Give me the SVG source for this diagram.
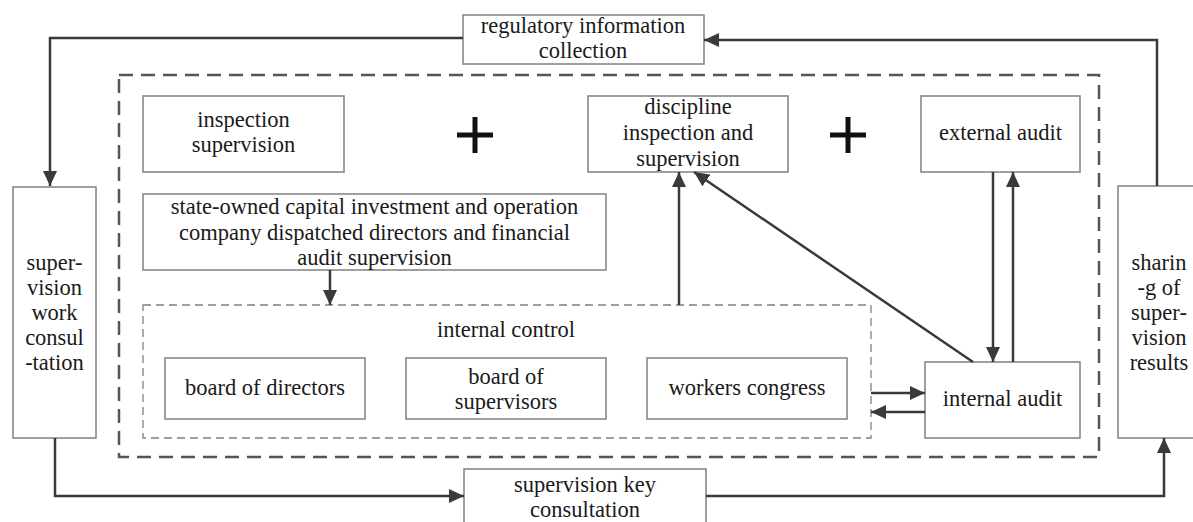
<svg xmlns="http://www.w3.org/2000/svg" width="1193" height="522" viewBox="0 0 1193 522" font-family="Liberation Serif, Times New Roman, serif">
<defs>
<marker id="ah" markerUnits="userSpaceOnUse" markerWidth="16" markerHeight="14" refX="15" refY="7" orient="auto">
<path d="M0,0 L15,7 L0,14 z" fill="#3a3a3a"/>
</marker>
<style>
.box{fill:#fff;stroke:#808080;stroke-width:1.5}
.t{font-family:'Liberation Serif','Times New Roman',serif;font-size:22.5px;fill:#1a1a1a;text-anchor:middle}
.c{fill:none;stroke:#3a3a3a;stroke-width:2.5;marker-end:url(#ah)}
.plus{stroke:#111;stroke-width:5;stroke-linecap:butt}
</style>
</defs>
<rect width="1193" height="522" fill="#fff"/>
<g id="outer-frame"><rect x="119" y="75" width="980" height="382" fill="none" stroke="#555" stroke-width="2.5" stroke-dasharray="14 8"/></g>
<g id="internal-control"><rect x="143" y="305" width="728" height="133" fill="none" stroke="#808080" stroke-width="1.3" stroke-dasharray="8 5"/><text class="t" x="506" y="337">internal control</text></g>
<g id="regulatory"><rect class="box" x="463" y="15" width="241" height="49"/><text class="t" x="583" y="33">regulatory information</text><text class="t" x="583" y="58">collection</text></g>
<g id="work-consultation"><rect class="box" x="13" y="187" width="83" height="251"/><text class="t" x="54.5" y="270">super-</text><text class="t" x="54.5" y="295">vision</text><text class="t" x="54.5" y="320">work</text><text class="t" x="54.5" y="345">consul</text><text class="t" x="54.5" y="370">-tation</text></g>
<g id="sharing"><rect class="box" x="1118" y="186" width="90" height="252"/><text class="t" x="1159" y="270">sharin</text><text class="t" x="1159" y="295">-g of</text><text class="t" x="1159" y="320">super-</text><text class="t" x="1159" y="345">vision</text><text class="t" x="1159" y="370">results</text></g>
<g id="key-consultation"><rect class="box" x="464" y="469" width="242" height="70"/><text class="t" x="585" y="492">supervision key</text><text class="t" x="585" y="517">consultation</text></g>
<g id="inspection"><rect class="box" x="143" y="96" width="201" height="76"/><text class="t" x="243.5" y="127">inspection</text><text class="t" x="243.5" y="152">supervision</text></g>
<g id="plus1"><line class="plus" x1="457" y1="135" x2="493" y2="135"/><line class="plus" x1="475" y1="117" x2="475" y2="153"/></g>
<g id="discipline"><rect class="box" x="588" y="96" width="200" height="76"/><text class="t" x="688" y="114">discipline</text><text class="t" x="688" y="140">inspection and</text><text class="t" x="688" y="166">supervision</text></g>
<g id="plus2"><line class="plus" x1="830" y1="135" x2="866" y2="135"/><line class="plus" x1="848" y1="117" x2="848" y2="153"/></g>
<g id="external-audit"><rect class="box" x="921" y="96" width="159" height="76"/><text class="t" x="1000.5" y="140">external audit</text></g>
<g id="state-owned"><rect class="box" x="143" y="194" width="463" height="76"/><text class="t" x="374.5" y="214">state-owned capital investment and operation</text><text class="t" x="374.5" y="240">company dispatched directors and financial</text><text class="t" x="374.5" y="265">audit supervision</text></g>
<g id="board-directors"><rect class="box" x="165" y="358" width="200" height="61"/><text class="t" x="265" y="395">board of directors</text></g>
<g id="board-supervisors"><rect class="box" x="406" y="358" width="200" height="61"/><text class="t" x="506" y="384">board of</text><text class="t" x="506" y="409">supervisors</text></g>
<g id="workers-congress"><rect class="box" x="647" y="358" width="200" height="61"/><text class="t" x="747" y="395">workers congress</text></g>
<g id="internal-audit"><rect class="box" x="925" y="362" width="155" height="76"/><text class="t" x="1002.5" y="406">internal audit</text></g>
<g id="connectors">
<path class="c" d="M463,38 H50 V186"/>
<path class="c" d="M1157,186 V40 H704"/>
<path class="c" d="M55,438 V496 H464"/>
<path class="c" d="M706,496 H1164 V438"/>
<path class="c" d="M330,270 V305"/>
<path class="c" d="M679,305 V172"/>
<path class="c" d="M973,362 L694,172"/>
<path class="c" d="M993,172 V362"/>
<path class="c" d="M1013,362 V172"/>
<path class="c" d="M871,393 H925"/>
<path class="c" d="M925,412 H871"/>
</g>
</svg>
